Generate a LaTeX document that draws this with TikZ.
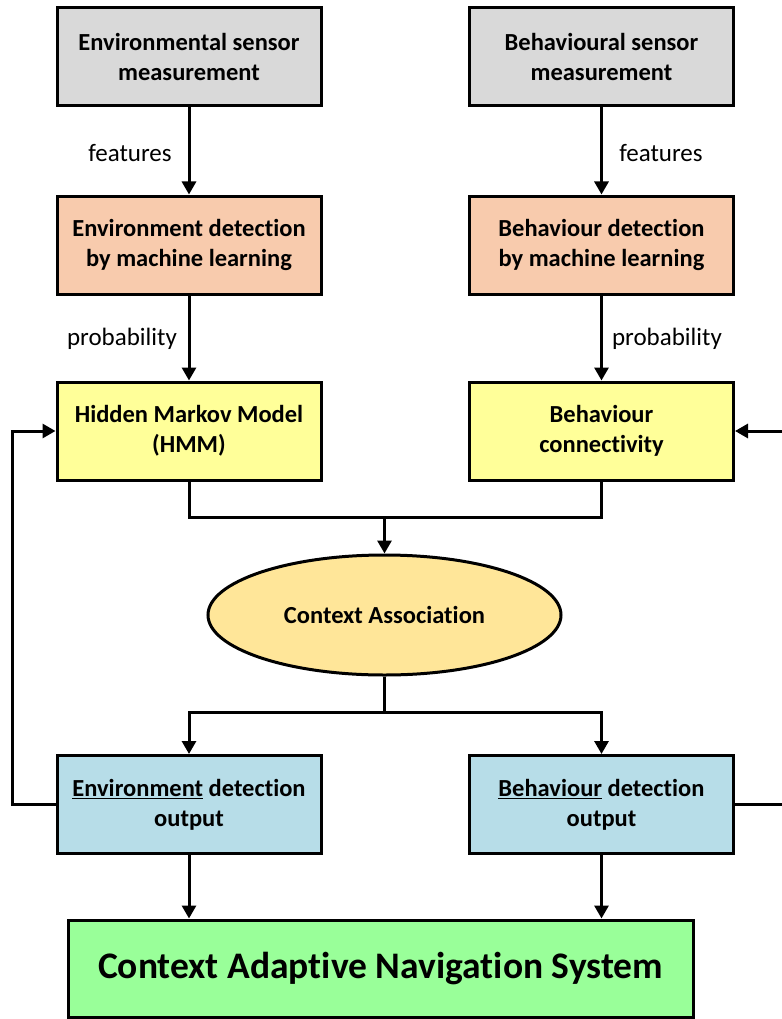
\documentclass[tikz,border=0pt]{standalone}
\usepackage{fontspec}
\setmainfont[Ligatures=NoCommon]{Carlito}
\usetikzlibrary{shapes.geometric,arrows.meta}
\definecolor{cgray}{HTML}{D9D9D9}
\definecolor{cpeach}{HTML}{F8CBAD}
\definecolor{cyellow}{HTML}{FFFF99}
\definecolor{corange}{HTML}{FFE699}
\definecolor{cblue}{HTML}{B7DDE8}
\definecolor{cgreen}{HTML}{99FF99}
\begin{document}
\begin{tikzpicture}[x=1pt,y=-1pt,
  box/.style={draw=black, line width=3pt, minimum width=264pt, minimum height=98pt,
    align=center, font=\fontsize{24.5}{30}\selectfont\bfseries, inner sep=0pt},
  conn/.style={line width=3pt, -{Triangle[length=13pt,width=14pt]}},
  plain/.style={line width=3pt},
  lbl/.style={font=\fontsize{25}{28}\selectfont, anchor=center}]
\useasboundingbox (0,0) rectangle (781,1019);
\node[box, fill=cgray] (es) at (189,57) {Environmental sensor\\measurement};
\node[box, fill=cgray] (bs) at (601.5,57) {Behavioural sensor\\measurement};
\node[box, fill=cpeach] (ed) at (189,245) {Environment detection\\by machine learning};
\node[box, fill=cpeach] (bd) at (601.5,245) {Behaviour detection\\by machine learning};
\node[box, fill=cyellow] (hmm) at (189,431) {Hidden Markov Model\\(HMM)};
\node[box, fill=cyellow] (bc) at (601.5,431) {Behaviour\\connectivity};
\node[ellipse, draw=black, line width=3pt, fill=corange, minimum width=353pt, minimum height=120pt,
  inner sep=0pt, font=\fontsize{24.5}{30}\selectfont\bfseries] (ca) at (384.5,615) {Context Association};
\node[box, fill=cblue] (eo) at (189,804.5) {\underline{Environment} detection\\output};
\node[box, fill=cblue] (bo) at (601.5,804.5) {\underline{Behaviour} detection\\output};
\node[box, fill=cgreen, minimum width=625pt, minimum height=97pt, font=\fontsize{37.5}{42}\selectfont\bfseries] (cans) at (380.5,968.5) {Context Adaptive Navigation System};

\node[lbl] (lf1) at (130,153) {features};
\node[lbl] (lf2) at (661,153) {features};
\node[lbl] (lp1) at (122,339) {probability};
\node[lbl] (lp2) at (667,339) {probability};

\draw[conn] (es) -- (ed);
\draw[conn] (bs) -- (bd);
\draw[conn] (ed) -- (hmm);
\draw[conn] (bd) -- (bc);

\coordinate (mj) at (384.5,517);
\draw[plain] (hmm.south) |- (mj) -| (bc.south);
\draw[conn] (mj) -- (ca.north);

\coordinate (sj) at (384.5,712);
\draw[plain] (ca.south) -- (sj);
\draw[conn] (sj) -| (eo.north);
\draw[conn] (sj) -| (bo.north);

\coordinate (lf) at (12,804.5);
\coordinate (lt) at (12,431);
\draw[conn] (eo.west) -- (lf) -- (lt) -- (hmm.west);
\coordinate (rf) at (782,804.5);
\coordinate (rt) at (782,431);
\draw[plain] (bo.east) -- (rf);
\draw[conn] (rt) -- (bc.east);

\draw[conn] (eo.south) -- (eo.south |- cans.north);
\draw[conn] (bo.south) -- (bo.south |- cans.north);
\end{tikzpicture}
\end{document}
